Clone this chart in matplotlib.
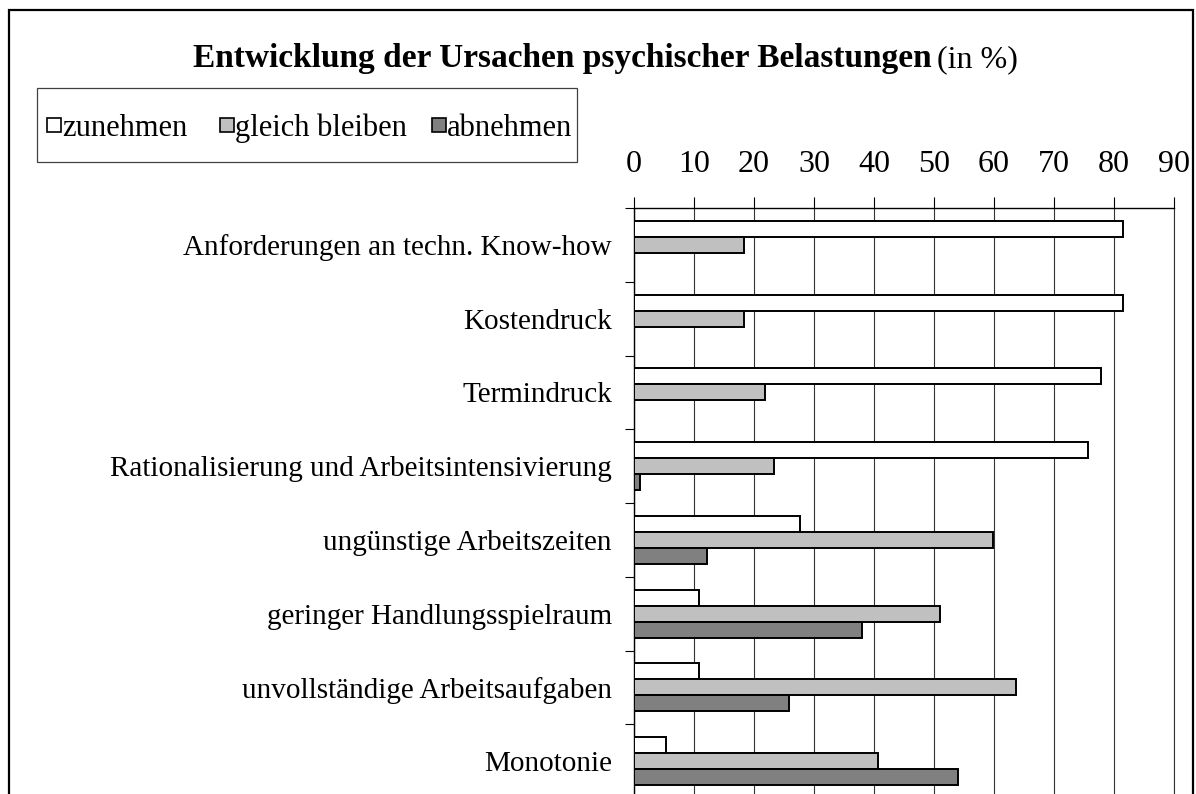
import matplotlib
matplotlib.use("Agg")
import matplotlib.pyplot as plt
from matplotlib.patches import Rectangle
import numpy as np

plt.rcParams['font.family'] = ['Liberation Serif', 'DejaVu Serif']

categories = ['Anforderungen an techn. Know-how', 'Kostendruck', 'Termindruck',
              'Rationalisierung und Arbeitsintensivierung', 'ungünstige Arbeitszeiten',
              'geringer Handlungsspielraum', 'unvollständige Arbeitsaufgaben', 'Monotonie']
zunehmen = [81.5, 81.5, 77.8, 75.6, 27.7, 10.8, 10.8, 5.4]
gleich_bleiben = [18.4, 18.4, 21.9, 23.3, 59.8, 51.0, 63.7, 40.6]
abnehmen = [0, 0, 0, 1.0, 12.1, 38.0, 25.9, 54.0]
series_names = ['zunehmen', 'gleich bleiben', 'abnehmen']
colors = ['white', '#c0c0c0', '#808080']
xticks = [0, 10, 20, 30, 40, 50, 60, 70, 80, 90]

W, H = 1196, 794
fig = plt.figure(figsize=(W / 100, H / 100), dpi=100)

# outer frame
fig.patches.append(Rectangle((9 / W, -0.05), (1193 - 9) / W, 1.05 - 10 / H,
                             transform=fig.transFigure, fill=False,
                             edgecolor='black', linewidth=1.6, zorder=0))

ax = fig.add_axes([634 / W, 1 - 798 / H, (1174 - 634) / W, (798 - 208) / H])

y = np.arange(len(categories))
bh = 0.218
for k, (vals, c) in enumerate(zip([zunehmen, gleich_bleiben, abnehmen], colors)):
    vals = np.array(vals, dtype=float)
    m = vals > 0
    ax.barh(y[m] + (k - 1) * bh, vals[m], height=bh, color=c,
            edgecolor='black', linewidth=1.4, zorder=3)

ax.set_xlim(0, 90)
ax.set_ylim(len(categories) - 0.5, -0.5)
ax.xaxis.tick_top()
ax.set_xticks(xticks)
ax.tick_params(axis='x', which='major', direction='out', length=8, width=0.8,
               labelsize=23, pad=13)
ax.grid(axis='x', color='#333333', linewidth=0.8, zorder=1)

ax.set_yticks(y)
ax.set_yticklabels(categories)
ax.tick_params(axis='y', which='major', length=0, labelsize=21, pad=16)
ax.set_yticks(np.arange(len(categories)) - 0.5, minor=True)
ax.tick_params(axis='y', which='minor', direction='out', length=6.5, width=0.8)

ax.spines['bottom'].set_visible(False)
ax.spines['right'].set_color('#333333')
ax.spines['right'].set_linewidth(0.8)
ax.spines['left'].set_linewidth(1.0)
ax.spines['top'].set_linewidth(1.0)

# title
fig.text(932 / W, 1 - 67 / H, 'Entwicklung der Ursachen psychischer Belastungen',
         ha='right', va='baseline', fontsize=24, fontweight='bold')
fig.text(937 / W, 1 - 67 / H, '(in %)', ha='left', va='baseline', fontsize=23)

# legend box with hand placed entries
fig.patches.append(Rectangle((37 / W, 1 - 162 / H), (577 - 37) / W, (162 - 88) / H,
                             transform=fig.transFigure, fill=False,
                             edgecolor='#404040', linewidth=0.9))
for name, c, x0 in zip(series_names, colors, [47, 220, 432]):
    fig.patches.append(Rectangle((x0 / W, 1 - 132 / H), 14 / W, 14 / H,
                                 transform=fig.transFigure, facecolor=c,
                                 edgecolor='black', linewidth=1.2))
    fig.text((x0 + 15) / W, 1 - 125 / H, name, ha='left', va='center_baseline',
             fontsize=22)

fig.savefig('out.png', dpi=100)
